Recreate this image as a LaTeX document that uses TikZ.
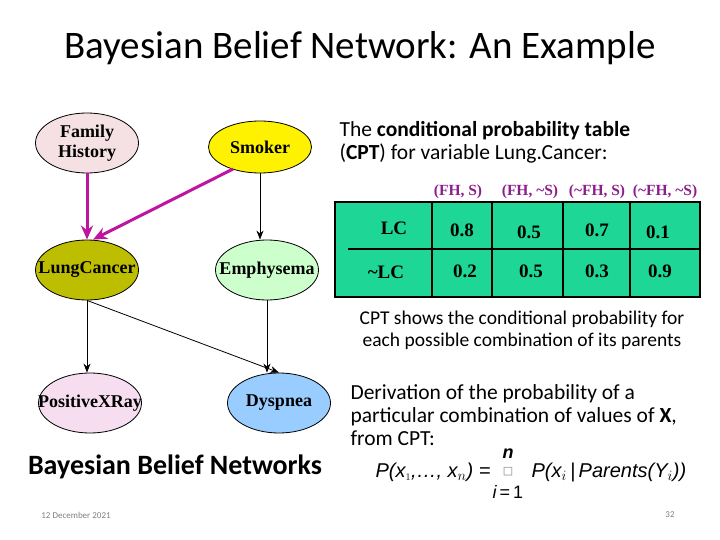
\documentclass[tikz,border=0pt]{standalone}
\usepackage{fontspec}
\setmainfont{Carlito}
\newfontfamily\tms{Liberation Serif}
\newfontfamily\arl{Liberation Sans}
\newfontfamily\dvs{DejaVu Sans}
\usetikzlibrary{shapes.geometric,arrows.meta}
\definecolor{mag}{RGB}{190,20,160}
\definecolor{tgreen}{RGB}{30,214,150}
\definecolor{hdr}{RGB}{140,30,140}
\tikzset{
 bn/.style={ellipse,draw,thick,minimum width=103pt,minimum height=58pt,inner sep=0pt},
 bt/.style={align=center,inner sep=0pt,font=\tms\bfseries\fontsize{18}{20}\selectfont},
 blk/.style={-{Stealth[length=9pt,width=7pt]},thick},
 pk/.style={-{Stealth[length=14pt,width=12pt]},line width=3pt,mag},
 cell/.style={font=\tms\bfseries\fontsize{19}{20}\selectfont},
 hd/.style={font=\tms\bfseries\fontsize{15.5}{16}\selectfont,text=hdr},
 body/.style={anchor=west,align=left,font=\fontsize{21.5}{23}\selectfont}
}
\begin{document}
\begin{tikzpicture}[x=1pt,y=-1pt]
\useasboundingbox (0,0) rectangle (720,540);
\node (title) at (360,48) {\fontsize{39}{42}\selectfont Bayesian Belief Network: An Example};
\node[bn,fill={rgb,255:red,245;green,224;blue,228},minimum height=60pt] (fh) at (87,143) {};
\node[bn,fill=yellow,minimum height=52pt] (sm) at (260,147) {};
\node[bn,fill={rgb,255:red,190;green,190;blue,0},minimum height=60pt] (lc) at (87,270) {};
\node[bn,fill={rgb,255:red,204;green,255;blue,204},minimum height=60pt] (em) at (267,270) {};
\node[bn,fill={rgb,255:red,246;green,222;blue,240},minimum height=60pt] (px) at (90,403) {};
\node[bn,fill={rgb,255:red,153;green,204;blue,255},minimum height=60pt] (dy) at (279,403) {};
\node[bt] (fht) at (fh) {Family\\History};
\node[bt] (smt) at (sm) {Smoker};
\node[bt] (lct) at (lc) {LungCancer};
\node[bt] (emt) at (em) {Emphysema};
\node[bt] (pxt) at (px) {PositiveXRay};
\node[bt] (dyt) at (dy) {Dyspnea};
\coordinate (s1) at (233,169);
\draw[pk] (fh.south) -- (lc.north);
\draw[pk] (s1) -- ([xshift=6pt]lc.north);
\draw[blk] (sm.south) -- (sm.south |- em.north);
\draw[blk] (lc.south) -- (lc.south |- px.north);
\draw[blk] (lc.south) -- (dy.north);
\draw[blk] (em.south) -- (em.south |- dy.north);
% CPT text
\node[body] (t1) at (336,142) {The \textbf{conditional probability table}\\(\textbf{CPT}) for variable Lung.Cancer:};
% table
\fill[tgreen] (335,202) rectangle (700,297);
\draw[line width=1.5pt] (335,202) rectangle (700,297);
\foreach \x in {432,492,563,630} \draw[line width=1.5pt] (\x,202) -- (\x,297);
\draw[line width=1.5pt] (348,249) -- (700,249);
\node[hd] (h1) at (458,192) {(FH, S)};
\node[hd] (h2) at (530,192) {(FH, \textasciitilde S)};
\node[hd] (h3) at (597,192) {(\textasciitilde FH, S)};
\node[hd] (h4) at (665,192) {(\textasciitilde FH, \textasciitilde S)};
\node[cell] (r1) at (394,228) {LC};
\node[cell] (r2) at (386,272) {\textasciitilde LC};
\node[cell] (a1) at (462,230) {0.8};
\node[cell] (a2) at (529,232) {0.5};
\node[cell] (a3) at (597,230) {0.7};
\node[cell] (a4) at (658,232) {0.1};
\node[cell] (b1) at (465,271) {0.2};
\node[cell] (b2) at (531,271) {0.5};
\node[cell] (b3) at (597,271) {0.3};
\node[cell] (b4) at (660,271) {0.9};
\node[align=center,font=\fontsize{19.5}{22}\selectfont] (note) at (522,330) {CPT shows the conditional probability for\\each possible combination of its parents};
\node[body,anchor=north west] (der) at (347,381) {Derivation of the probability of a\\particular combination of values of \textbf{X},\\from CPT:};
\node[font=\bfseries\fontsize{28}{30}\selectfont] (bbn) at (175,467) {Bayesian Belief Networks};
\node[font=\arl\itshape\fontsize{20}{21}\selectfont,anchor=west] (f1) at (372,472) {P(x$_{\scriptscriptstyle 1}$,\dots, x$_n$) =};
\node[font=\dvs\fontsize{11}{11}\selectfont,text=gray] (prod) at (508,472) {□};
\node[font=\arl\itshape\bfseries\fontsize{18}{18}\selectfont] (nn) at (508,454) {n};
\node[font=\arl\itshape\fontsize{18}{18}\selectfont] (ii) at (508,492) {i\,\upshape=\,1};
\node[font=\arl\itshape\fontsize{20}{21}\selectfont,anchor=west] (f2) at (528,472) {P(x$_i$\,|\,Parents(Y$_i$))};
\node[font=\fontsize{9}{10}\selectfont,text=gray] (date) at (76,515) {12 December 2021};
\node[font=\fontsize{9}{10}\selectfont,text=gray] (pg) at (670,515) {32};
\end{tikzpicture}
\end{document}
